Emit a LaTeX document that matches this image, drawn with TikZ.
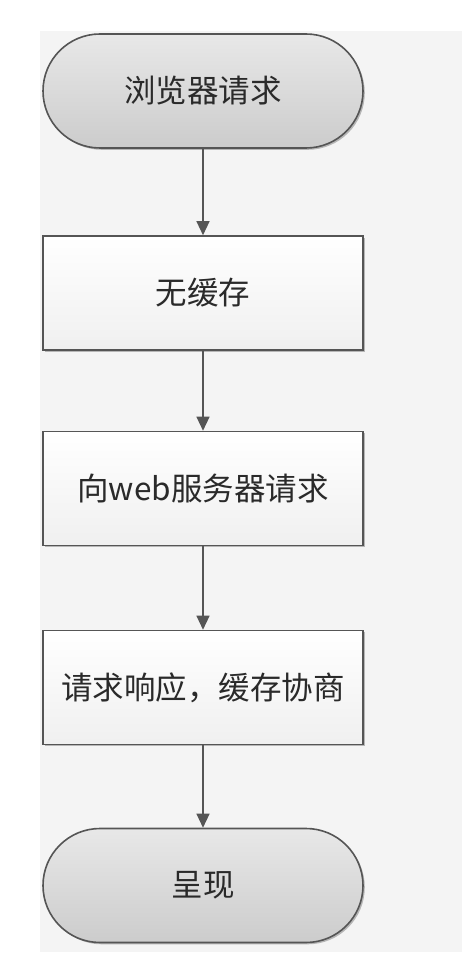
\documentclass[tikz,border=0pt]{standalone}
\usepackage{fontspec}
\newfontfamily\cjk{Noto Sans CJK SC}
\usetikzlibrary{arrows.meta,shadows}
\definecolor{panelbg}{HTML}{F4F4F4}
\definecolor{edgec}{HTML}{555555}
\definecolor{textc}{HTML}{2A2A2A}
\tikzset{
  base/.style={draw=edgec, line width=1.6pt, text=textc, font=\cjk\fontsize{31.5}{36}\selectfont,
    minimum width=320pt, inner sep=0pt,
    drop shadow={shadow xshift=1.8pt, shadow yshift=-1.8pt, fill=black, opacity=0.25}},
  terminal/.style={base, minimum height=114pt, rounded corners=57pt,
    top color=gray!18, bottom color=gray!40},
  process/.style={base, minimum height=114pt,
    top color=white, bottom color=gray!12},
  flow/.style={draw=edgec, line width=1.3pt, -{Triangle[length=14pt,width=13pt]}}
}
\begin{document}
\begin{tikzpicture}[x=1pt,y=-1pt]
  \path[use as bounding box] (0,0) rectangle (468,968);
  \fill[panelbg] (40,31) rectangle (462,952);
  \node[terminal] (start) at (203,91) {浏览器请求};
  \node[process] (nocache) at (203,293) {无缓存};
  \node[process] (server) at (203,488.5) {向web服务器请求};
  \node[process] (reply) at (203,687.5) {请求响应，缓存协商};
  \node[terminal] (show) at (203,885.5) {呈现};
  \draw[flow] (start) -- (nocache);
  \draw[flow] (nocache) -- (server);
  \draw[flow] (server) -- (reply);
  \draw[flow] (reply) -- (show);
\end{tikzpicture}
\end{document}
